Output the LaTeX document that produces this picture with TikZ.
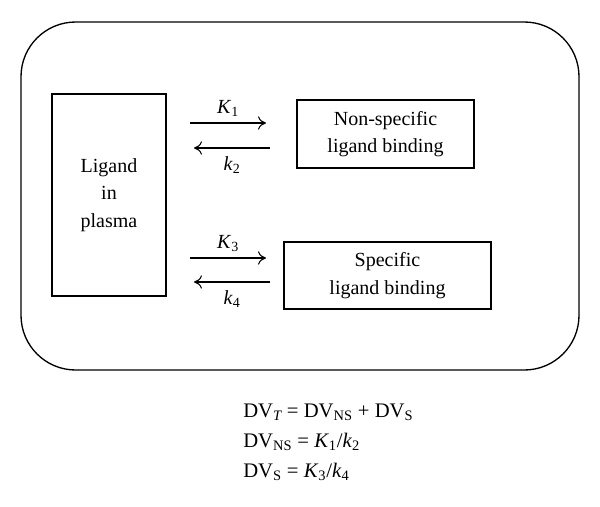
\documentclass[tikz,border=0pt]{standalone}
\usepackage{amsmath}
\usepackage{fontspec}
\setmainfont{Liberation Serif}
\usetikzlibrary{arrows.meta}
\tikzset{
    frame/.style={draw, line width=1pt, rounded corners=41pt},
    pool/.style={draw, line width=0.8pt, align=center, inner sep=0pt},
    rate/.style={-{To[length=6pt,width=10pt]}, line width=0.8pt},
    eqn/.style={anchor=west, inner sep=0pt, font=\fontsize{15.5}{20}\selectfont}
}

\begin{document}
\begin{tikzpicture}
  [
    x                       = 0.75pt,
    y                       = -0.75pt,
    every node/.style       = {font=\fontsize{15}{20.5}\selectfont},
  ]
  \useasboundingbox (0,0) rectangle (600,507);
  \draw [frame] (21,22) rectangle (579,370);

  % compartments
  \node [pool, minimum width=85.5pt, minimum height=151.5pt] (plasma) at (109,195)
    {Ligand\\ in\\ plasma};
  \node [pool, minimum width=132.75pt, minimum height=51pt] (nonspec) at (385.5,134)
    {Non-specific\\ligand binding};
  \node [pool, minimum width=155.25pt, minimum height=50.25pt] (spec) at (387.5,275.5)
    {Specific\\ligand binding};

  % arrow ends
  \coordinate (k1a) at (190,123);
  \coordinate (k1b) at (266,123);
  \coordinate (k2a) at (270,148);
  \coordinate (k2b) at (194,148);
  \coordinate (k3a) at (190,258);
  \coordinate (k3b) at (266,258);
  \coordinate (k4a) at (270,282);
  \coordinate (k4b) at (194,282);

  \draw [rate] (k1a) -- node [above=1pt] {\textit{K}$_{\text{1}}$} (k1b);
  \draw [rate] (k2a) -- node [below=2.5pt] {\textit{k}$_{\text{2}}$} (k2b);
  \draw [rate] (k3a) -- node [above=1pt] {\textit{K}$_{\text{3}}$} (k3b);
  \draw [rate] (k4a) -- node [below=2.5pt] {\textit{k}$_{\text{4}}$} (k4b);

  % volumes
  \node [eqn] (dvt) at (243,412)
    {DV$_{\textit{T}}$ = DV$_{\text{NS}}$ + DV$_{\text{S}}$};
  \node [eqn] (dvns) at (243,442)
    {DV$_{\text{NS}}$ = \textit{K}$_{\text{1}}$/\textit{k}$_{\text{2}}$};
  \node [eqn] (dvs) at (243,472)
    {DV$_{\text{S}}$ = \textit{K}$_{\text{3}}$/\textit{k}$_{\text{4}}$};
\end{tikzpicture}
\end{document}
